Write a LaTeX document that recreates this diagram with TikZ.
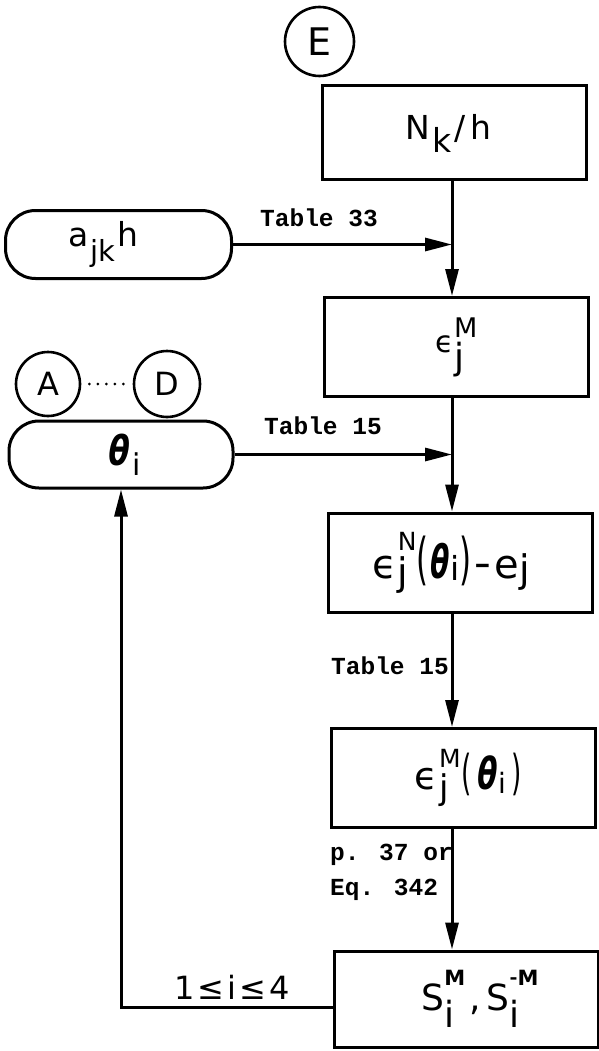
\documentclass[tikz,border=0pt]{standalone}
\usepackage{graphicx}
\usepackage{fontspec}
\usetikzlibrary{arrows.meta,calc}
\setmainfont{DejaVu Sans}
\newfontfamily\labfont{Liberation Mono}
\newfontfamily\thfont{DejaVu Sans}[FakeSlant=0.22]
\newcommand\fs[1]{\fontsize{#1}{#1}\selectfont}
% theta: size, horizontal scale
\newcommand\Th[2]{{\thfont\bfseries\fs{#1}\scalebox{#2}[1]{θ}}\kern3pt}
% narrow parenthesis: size, glyph
\newcommand\NP[2]{\scalebox{0.55}[1]{\fs{#1}#2}}
% stacked sup/sub: supsize, raise, sup, subsize, lower, sub
\newcommand\SupSub[6]{\mbox{\setbox0\hbox{\raisebox{#2pt}{\fs{#1}#3}}\setbox2\hbox{\raisebox{-#5pt}{\fs{#4}#6}}\ifdim\wd0>\wd2 \rlap{\box2}\box0\else\rlap{\box0}\box2\fi}}
\tikzset{
  box/.style={draw, line width=3pt, inner sep=0pt, minimum width=264pt, minimum height=99pt},
  pill/.style={draw, line width=3pt, rounded corners=30pt, inner sep=0pt, minimum width=226pt, minimum height=68pt},
  conn/.style={draw, circle, line width=2.6pt, inner sep=0pt, minimum size=66pt, font=\fs{32}},
  arr/.style={line width=3pt, -{Triangle[length=27pt,width=13pt]}},
  lab/.style={inner sep=0pt, font=\labfont\bfseries\fontsize{24.5}{35}\selectfont},
}
\begin{document}
\begin{tikzpicture}[x=1pt,y=-1pt]
\useasboundingbox (0,0) rectangle (599,1051);
% off-page connectors
\node[conn, minimum size=69pt, font=\fs{38}] (E) at (319.5,41.5) {E};
\node[conn, minimum size=64pt] (A) at (48,384) {A};
\node[conn, minimum size=66pt] (D) at (167,384) {D};
\draw[line width=3pt, dash pattern=on 0pt off 8.5pt, line cap=round, shorten <=8pt, shorten >=6pt] (A) -- (D);
% process boxes
\node[box, minimum height=94pt] (Nk) at (454.5,133) {\kern-13pt\fs{33}N\kern3pt\raisebox{-13pt}{k}\kern3pt/\kern4pt h};
\node[box] (eM) at (456.5,347) {\fs{30}ϵ\SupSub{27}{15}{M}{36}{17}{j}};
\node[box] (eN) at (460.5,562.5) {\kern-19pt\fs{40}ϵ\kern1pt\SupSub{25}{28}{N}{38}{7}{j}\NP{56}{(}\Th{46}{0.6}\raisebox{-2pt}{\fs{33}i}\NP{56}{)}\kern3pt\scalebox{0.5}[1]{−}\kern3pt e\raisebox{-4pt}{\fs{38}j}};
\node[box] (eMt) at (463,778) {\kern11pt\fs{38}ϵ\kern1pt\SupSub{25}{22}{M}{34}{10}{j}\kern1pt\NP{48}{(}\kern3pt\Th{44}{0.66}\raisebox{-4pt}{\fs{28}i}\kern6pt\NP{48}{)}};
\node[box, minimum height=96pt] (S) at (466,999) {\kern28pt\fs{36}S\SupSub{21}{25}{\bfseries M}{36}{17}{i}\kern4pt,\kern6pt S\SupSub{21}{25}{\bfseries\scalebox{0.45}[1]{−}M}{36}{17}{i}};
% input pills
\node[pill] (a) at (118.5,244.5) {\kern-30pt\fs{33}a\kern2pt\raisebox{-15pt}{\fs{29}jk}\kern2pt h};
\node[pill, minimum width=224pt, minimum height=67pt] (th) at (121,454.5) {\kern5pt\Th{41}{0.75}\kern2pt\raisebox{-10pt}{\fs{30}i}};
% main column
\coordinate (c1) at (452,242);
\coordinate (c2) at (452,453);
\draw[arr] (Nk.south -| c1) -- (eM.north -| c1);
\draw[arr] (a.east) -- (a.east -| c1);
\draw[arr] (eM.south -| c2) -- (eN.north -| c2);
\draw[arr] (th.east) -- (th.east -| c2);
\draw[arr] (eN.south -| c2) -- (eMt.north -| c2);
\draw[arr] (eMt.south -| c2) -- (S.north -| c2);
\draw[arr] ([yshift=-8pt]S.west) -| (th.south);
% labels
\node[lab] (t33) at (319,218) {Table 33};
\node[lab] (t15a) at (323,426) {Table 15};
\node[lab] (t15b) at (390,666) {Table 15};
\node[lab, align=left, anchor=west] (p37) at (330,872) {p. 37 or\\Eq. 342};
\node[font=\fs{32}, inner sep=0pt] (rng) at (232,987) {1\kern3pt≤\kern3pt i\kern3pt≤\kern3pt4};
\end{tikzpicture}
\end{document}
